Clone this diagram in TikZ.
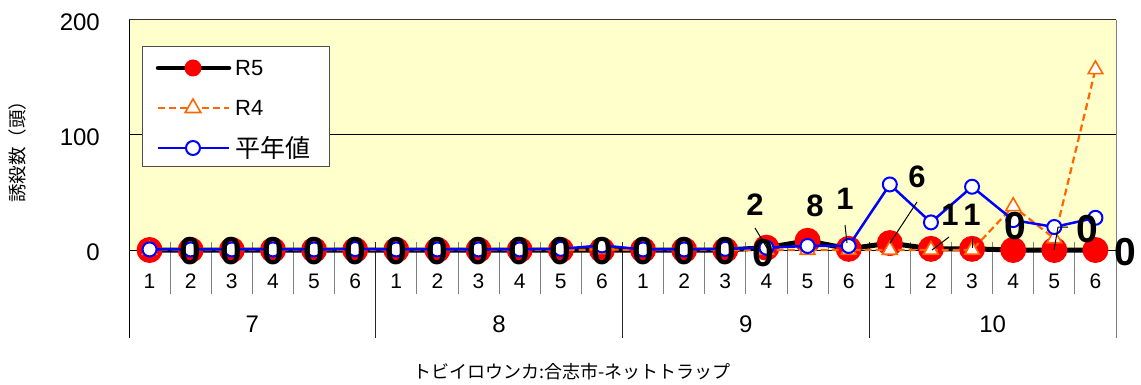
\documentclass[tikz,border=0pt]{standalone}
\usepackage{fontspec}
\setmainfont{Liberation Sans}
\newfontfamily\jp{Noto Sans CJK JP}
\usetikzlibrary{shapes.geometric}
\definecolor{plotbg}{HTML}{FFFFCC}
\definecolor{orangeR}{HTML}{FF6600}
\definecolor{gridgray}{HTML}{808080}
\tikzset{
  r5line/.style={line width=5pt, black, line join=round},
  r4line/.style={line width=2.2pt, color=orangeR, dash pattern=on 7pt off 4pt},
  avgline/.style={line width=2.5pt, blue, line join=round},
  r5mark/.style={circle, fill=red, minimum size=26pt, inner sep=0pt},
  r5legmark/.style={circle, fill=red, minimum size=17pt, inner sep=0pt},
  r4mark/.style={regular polygon, regular polygon sides=3, draw=orangeR, fill=white, line width=1.6pt, minimum size=17pt, inner sep=0pt},
  avgmark/.style={circle, draw=blue, fill=white, line width=2pt, minimum size=14pt, inner sep=0pt},
  zlab/.style={font=\bfseries\fontsize{39}{39}\selectfont, inner sep=0pt},
  vlab/.style={font=\bfseries\fontsize{31}{31}\selectfont, inner sep=0pt},
  leader/.style={line width=1pt, black},
  ticklab/.style={font=\fontsize{21}{21}\selectfont, inner sep=0pt},
  monthlab/.style={font=\fontsize{24}{24}\selectfont, inner sep=0pt},
  ylab/.style={font=\fontsize{24}{24}\selectfont, inner sep=0pt, anchor=east},
  legtext/.style={font=\fontsize{22}{22}\selectfont, inner sep=0pt, anchor=west},
}
\begin{document}
\begin{tikzpicture}[x=1pt,y=-1pt]
\useasboundingbox[fill=white] (0,0) rectangle (1141,385);
% plot area
\fill[plotbg] (129,20) rectangle (1116,250);
\draw[line width=1pt, black] (129,135) -- (1116,135);
\draw[line width=1pt, black!80] (129,20) -- (1116,20);
% category ticks
\foreach \k in {1,...,23} {
  \draw[line width=1pt, gridgray] ({129+41.125*\k},242) -- ({129+41.125*\k},294);
}
\foreach \k in {6,12,18} {
  \draw[line width=1pt, black!85] ({129+41.125*\k},242) -- ({129+41.125*\k},338);
}
\draw[line width=1pt, gridgray] (1116,20) -- (1116,338);
\draw[line width=1pt, black] (129,20) -- (129,338);
\draw[line width=1pt, black] (129,250) -- (1116,250);
% y labels
\node[ylab] (y200) at (100,22) {200};
\node[ylab] (y100) at (100,137) {100};
\node[ylab] (y0) at (100,252) {0};
\node[font=\jp\fontsize{18.5}{18.5}\selectfont, rotate=90, inner sep=0pt] (ytitle) at (17,147) {誘殺数（頭）};
% category labels
\foreach \w [count=\i] in {1,2,3,4,5,6,1,2,3,4,5,6,1,2,3,4,5,6,1,2,3,4,5,6} {
  \node[ticklab] (c\i) at ({129+41.125*(\i-0.5)},281) {\w};
}
\foreach \m [count=\j] in {7,8,9,10} {
  \node[monthlab] (mo\j) at ({129+41.125*(6*\j-3)},324) {\m};
}
\node[font=\jp\fontsize{18}{18}\selectfont, inner sep=0pt] (xtitle) at (572,372) {トビイロウンカ:合志市-ネットトラップ};
% data coordinates
\foreach \v [count=\i] in {0,0,0,0,0,0, 0,0,0,0,0,0, 0,0,0,2,8,1, 6,1,1,0,0,0} {
  \coordinate (r5-\i) at ({129+41.125*(\i-0.5)},{250-1.15*\v});
}
\foreach \v [count=\i] in {0,0,0,0,0,0, 0,0,0,0,0,0.5, 0,0,0,0,0,0, 0,0,0,38,10,157} {
  \coordinate (r4-\i) at ({129+41.125*(\i-0.5)},{250-1.15*\v});
}
\foreach \v [count=\i] in {0.5,0.5,0.5,0.5,0.5,0.8, 0.5,0.5,0.5,0.5,1,4, 0.5,0.5,1,2,3.5,3.5, 57,24,55,26,20,28} {
  \coordinate (av-\i) at ({129+41.125*(\i-0.5)},{250-1.15*\v});
}
% R5
\draw[r5line] (r5-1) \foreach \i in {2,...,24} { -- (r5-\i) };
\foreach \i in {1,...,24} { \node[r5mark] (m5-\i) at (r5-\i) {}; }
% R4
\draw[r4line] (r4-1) \foreach \i in {2,...,24} { -- (r4-\i) };
\foreach \i in {1,...,24} { \node[r4mark] (m4-\i) at (r4-\i) {}; }
% average
\draw[avgline] (av-1) \foreach \i in {2,...,24} { -- (av-\i) };
\foreach \i in {1,...,24} { \node[avgmark] (ma-\i) at (av-\i) {}; }
% leader lines
\draw[leader] (755,228) -- (767,248);
\draw[leader] (845,225) -- (847,243);
\draw[leader] (917,202) -- (890,243);
\draw[leader] (949,237) -- (932,250);
\draw[leader] (972,238) -- (972,248);
\draw[leader] (1054,250) -- (1058,227) -- (1068,227);
% zero labels
\foreach \i in {2,...,15} {
  \node[zlab] (z\i) at ({129+41.125*(\i-0.5)},251) {0};
}
\node[zlab] (z16) at (763,253) {0};
\node[zlab] (z22) at (1015,226) {0};
\node[zlab] (z23) at (1087,229) {0};
\node[zlab] (z24) at (1125,252) {0};
% value labels
\node[vlab] (v16) at (755,205) {2};
\node[vlab] (v17) at (815,206) {8};
\node[vlab] (v18) at (845,199) {1};
\node[vlab] (v19) at (917,177) {6};
\node[vlab] (v20) at (950,215) {1};
\node[vlab] (v21) at (972,215) {1};
% legend
\draw[line width=1pt, black!70, fill=white] (142,47) rectangle (329,167);
\coordinate (la1) at (158,68); \coordinate (lb1) at (229,68);
\coordinate (la2) at (158,108); \coordinate (lb2) at (229,108);
\coordinate (la3) at (158,148); \coordinate (lb3) at (229,148);
\draw[r5line, line cap=round, line width=4.5pt] (la1) -- (lb1);
\node[r5legmark] (lm1) at (193,68) {};
\draw[r4line] (la2) -- (lb2);
\node[r4mark, minimum size=18pt] (lm2) at (193,108) {};
\draw[avgline] (la3) -- (lb3);
\node[avgmark] (lm3) at (193,148) {};
\node[legtext] (lt1) at (235,68) {R5};
\node[legtext] (lt2) at (235,108) {R4};
\node[legtext, font=\jp\fontsize{25}{25}\selectfont] (lt3) at (235,148) {平年値};
\end{tikzpicture}
\end{document}
